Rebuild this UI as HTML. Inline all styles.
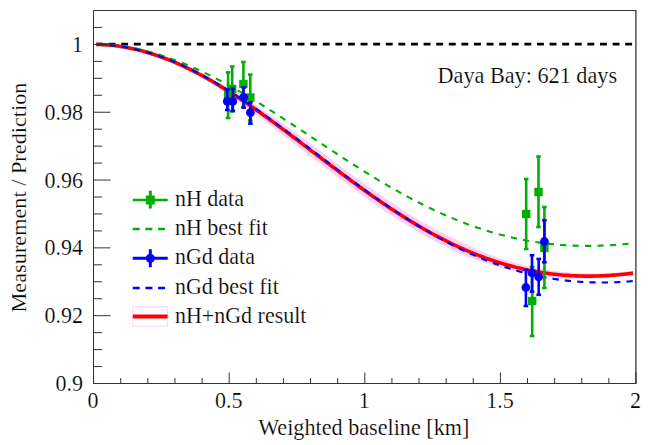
<!DOCTYPE html>
<html><head><meta charset="utf-8"><style>
html,body{margin:0;padding:0;background:#fff;width:650px;height:445px;overflow:hidden}
svg{display:block}
text{font-family:"Liberation Serif",serif;font-size:22px;fill:#000;stroke:#fff;stroke-width:0.2px}
</style></head><body>
<svg width="650" height="445" viewBox="0 0 650 445">
<rect width="650" height="445" fill="#fff"/>
<path d="M96.00,42.53 L98.45,42.57 L100.90,42.64 L103.36,42.75 L105.81,42.89 L108.26,43.07 L110.71,43.27 L113.16,43.52 L115.62,43.79 L118.07,44.10 L120.52,44.44 L122.97,44.82 L125.42,45.23 L127.88,45.67 L130.33,46.14 L132.78,46.65 L135.23,47.18 L137.68,47.75 L140.14,48.36 L142.59,48.99 L145.04,49.66 L147.49,50.35 L149.95,51.08 L152.40,51.84 L154.85,52.63 L157.30,53.45 L159.75,54.29 L162.21,55.17 L164.66,56.08 L167.11,57.02 L169.56,57.98 L172.01,58.98 L174.47,60.00 L176.92,61.05 L179.37,62.12 L181.82,63.23 L184.27,64.36 L186.73,65.51 L189.18,66.70 L191.63,67.90 L194.08,69.14 L196.53,70.39 L198.99,71.67 L201.44,72.92 L203.89,74.15 L206.34,75.41 L208.79,76.68 L211.25,77.98 L213.70,79.30 L216.15,80.64 L218.60,82.00 L221.05,83.38 L223.51,84.78 L225.96,86.20 L228.41,87.64 L230.86,89.10 L233.32,90.57 L235.77,92.06 L238.22,93.57 L240.67,95.09 L243.12,96.63 L245.58,98.19 L248.03,99.75 L250.48,101.34 L252.93,102.93 L255.38,104.54 L257.84,106.17 L260.29,107.82 L262.74,109.47 L265.19,111.13 L267.64,112.81 L270.10,114.49 L272.55,116.19 L275.00,117.89 L277.45,119.60 L279.90,121.32 L282.36,123.04 L284.81,124.77 L287.26,126.51 L289.71,128.25 L292.16,130.07 L294.62,131.89 L297.07,133.72 L299.52,135.55 L301.97,137.39 L304.42,139.22 L306.88,141.06 L309.33,142.90 L311.78,144.74 L314.23,146.58 L316.68,148.42 L319.14,150.26 L321.59,152.11 L324.04,153.95 L326.49,155.80 L328.95,157.64 L331.40,159.47 L333.85,161.31 L336.30,163.13 L338.75,164.96 L341.21,166.78 L343.66,168.59 L346.11,170.39 L348.56,172.19 L351.01,173.99 L353.47,175.77 L355.92,177.55 L358.37,179.31 L360.82,181.07 L363.27,182.82 L365.73,184.56 L368.18,186.29 L370.63,188.01 L373.08,189.76 L375.53,191.49 L377.99,193.21 L380.44,194.91 L382.89,196.61 L385.34,198.29 L387.79,199.96 L390.25,201.61 L392.70,203.25 L395.15,204.87 L397.60,206.49 L400.05,208.08 L402.51,209.66 L404.96,211.22 L407.41,212.77 L409.86,214.30 L412.32,215.82 L414.77,217.32 L417.22,218.80 L419.67,220.26 L422.12,221.71 L424.58,223.13 L427.03,224.54 L429.48,225.93 L431.93,227.31 L434.38,228.66 L436.84,229.99 L439.29,231.31 L441.74,232.58 L444.19,233.82 L446.64,235.04 L449.10,236.25 L451.55,237.43 L454.00,238.59 L456.45,239.73 L458.90,240.85 L461.36,242.01 L463.81,243.21 L466.26,244.38 L468.71,245.54 L471.16,246.67 L473.62,247.78 L476.07,248.87 L478.52,249.93 L480.97,250.98 L483.42,252.00 L485.88,253.00 L488.33,253.98 L490.78,254.94 L493.23,255.87 L495.68,256.77 L498.14,257.62 L500.59,258.44 L503.04,259.24 L505.49,260.02 L507.95,260.77 L510.40,261.51 L512.85,262.22 L515.30,262.91 L517.75,263.57 L520.21,264.22 L522.66,264.84 L525.11,265.44 L527.56,266.02 L530.01,266.58 L532.47,267.12 L534.92,267.63 L537.37,268.12 L539.82,268.59 L542.27,269.04 L544.73,269.47 L547.18,269.88 L549.63,270.26 L552.08,270.62 L554.53,270.95 L556.99,271.26 L559.44,271.56 L561.89,271.83 L564.34,272.08 L566.79,272.31 L569.25,272.52 L571.70,272.71 L574.15,272.88 L576.60,273.03 L579.05,273.16 L581.51,273.27 L583.96,273.36 L586.41,273.44 L588.86,273.49 L591.32,273.52 L593.77,273.54 L596.22,273.54 L598.67,273.52 L601.12,273.45 L603.58,273.34 L606.03,273.21 L608.48,273.06 L610.93,272.90 L613.38,272.72 L615.84,272.52 L618.29,272.30 L620.74,272.07 L623.19,271.82 L625.64,271.55 L628.10,271.27 L630.55,270.98 L633.00,270.67 L633.00,275.63 L630.55,275.93 L628.10,276.21 L625.64,276.48 L623.19,276.74 L620.74,276.97 L618.29,277.19 L615.84,277.40 L613.38,277.58 L610.93,277.75 L608.48,277.90 L606.03,278.04 L603.58,278.16 L601.12,278.26 L598.67,278.37 L596.22,278.49 L593.77,278.59 L591.32,278.67 L588.86,278.73 L586.41,278.78 L583.96,278.81 L581.51,278.81 L579.05,278.80 L576.60,278.77 L574.15,278.71 L571.70,278.64 L569.25,278.55 L566.79,278.44 L564.34,278.30 L561.89,278.15 L559.44,277.98 L556.99,277.78 L554.53,277.57 L552.08,277.33 L549.63,277.08 L547.18,276.81 L544.73,276.52 L542.27,276.21 L539.82,275.87 L537.37,275.52 L534.92,275.14 L532.47,274.75 L530.01,274.33 L527.56,273.88 L525.11,273.42 L522.66,272.94 L520.21,272.43 L517.75,271.90 L515.30,271.35 L512.85,270.77 L510.40,270.18 L507.95,269.56 L505.49,268.92 L503.04,268.26 L500.59,267.58 L498.14,266.87 L495.68,266.14 L493.23,265.43 L490.78,264.70 L488.33,263.95 L485.88,263.18 L483.42,262.39 L480.97,261.58 L478.52,260.74 L476.07,259.89 L473.62,259.01 L471.16,258.11 L468.71,257.19 L466.26,256.25 L463.81,255.28 L461.36,254.30 L458.90,253.24 L456.45,252.09 L454.00,250.93 L451.55,249.74 L449.10,248.54 L446.64,247.31 L444.19,246.06 L441.74,244.80 L439.29,243.52 L436.84,242.25 L434.38,240.96 L431.93,239.65 L429.48,238.32 L427.03,236.97 L424.58,235.60 L422.12,234.21 L419.67,232.81 L417.22,231.39 L414.77,229.95 L412.32,228.49 L409.86,227.02 L407.41,225.53 L404.96,224.03 L402.51,222.50 L400.05,220.97 L397.60,219.41 L395.15,217.84 L392.70,216.26 L390.25,214.66 L387.79,213.05 L385.34,211.43 L382.89,209.79 L380.44,208.13 L377.99,206.47 L375.53,204.79 L373.08,203.10 L370.63,201.40 L368.18,199.67 L365.73,197.91 L363.27,196.14 L360.82,194.36 L358.37,192.57 L355.92,190.78 L353.47,188.97 L351.01,187.16 L348.56,185.34 L346.11,183.51 L343.66,181.67 L341.21,179.83 L338.75,177.98 L336.30,176.13 L333.85,174.27 L331.40,172.41 L328.95,170.54 L326.49,168.67 L324.04,166.80 L321.59,164.93 L319.14,163.05 L316.68,161.16 L314.23,159.27 L311.78,157.38 L309.33,155.49 L306.88,153.60 L304.42,151.71 L301.97,149.83 L299.52,147.94 L297.07,146.06 L294.62,144.18 L292.16,142.31 L289.71,140.43 L287.26,138.49 L284.81,136.56 L282.36,134.63 L279.90,132.71 L277.45,130.80 L275.00,128.89 L272.55,126.99 L270.10,125.10 L267.64,123.22 L265.19,121.35 L262.74,119.49 L260.29,117.64 L257.84,115.80 L255.38,113.97 L252.93,112.15 L250.48,110.34 L248.03,108.55 L245.58,106.76 L243.12,105.00 L240.67,103.24 L238.22,101.50 L235.77,99.78 L233.32,98.08 L230.86,96.39 L228.41,94.72 L225.96,93.07 L223.51,91.43 L221.05,89.82 L218.60,88.22 L216.15,86.65 L213.70,85.10 L211.25,83.56 L208.79,82.05 L206.34,80.56 L203.89,79.09 L201.44,77.65 L198.99,76.27 L196.53,74.97 L194.08,73.69 L191.63,72.44 L189.18,71.21 L186.73,70.01 L184.27,68.84 L181.82,67.69 L179.37,66.57 L176.92,65.47 L174.47,64.40 L172.01,63.36 L169.56,62.35 L167.11,61.36 L164.66,60.41 L162.21,59.48 L159.75,58.58 L157.30,57.72 L154.85,56.88 L152.40,56.07 L149.95,55.29 L147.49,54.55 L145.04,53.83 L142.59,53.15 L140.14,52.50 L137.68,51.88 L135.23,51.29 L132.78,50.73 L130.33,50.20 L127.88,49.71 L125.42,49.25 L122.97,48.83 L120.52,48.43 L118.07,48.07 L115.62,47.74 L113.16,47.45 L110.71,47.19 L108.26,46.96 L105.81,46.77 L103.36,46.61 L100.90,46.48 L98.45,46.39 L96.00,46.33 Z" fill="#fccffc" stroke="none"/>
<line x1="96" y1="44.1" x2="634" y2="44.1" stroke="#000" stroke-width="2.8" stroke-dasharray="6.9 5.7"/>
<path d="M96.00,44.43 L98.45,44.48 L100.90,44.56 L103.36,44.68 L105.81,44.83 L108.26,45.01 L110.71,45.23 L113.16,45.48 L115.62,45.77 L118.07,46.09 L120.52,46.44 L122.97,46.82 L125.42,47.24 L127.88,47.69 L130.33,48.17 L132.78,48.69 L135.23,49.24 L137.68,49.82 L140.14,50.43 L142.59,51.07 L145.04,51.74 L147.49,52.45 L149.95,53.19 L152.40,53.96 L154.85,54.75 L157.30,55.58 L159.75,56.44 L162.21,57.33 L164.66,58.24 L167.11,59.19 L169.56,60.17 L172.01,61.17 L174.47,62.20 L176.92,63.26 L179.37,64.34 L181.82,65.46 L184.27,66.60 L186.73,67.76 L189.18,68.95 L191.63,70.17 L194.08,71.41 L196.53,72.68 L198.99,73.97 L201.44,75.29 L203.89,76.62 L206.34,77.98 L208.79,79.37 L211.25,80.77 L213.70,82.20 L216.15,83.64 L218.60,85.11 L221.05,86.60 L223.51,88.11 L225.96,89.63 L228.41,91.18 L230.86,92.74 L233.32,94.32 L235.77,95.92 L238.22,97.54 L240.67,99.17 L243.12,100.81 L245.58,102.47 L248.03,104.15 L250.48,105.84 L252.93,107.54 L255.38,109.26 L257.84,110.99 L260.29,112.73 L262.74,114.48 L265.19,116.24 L267.64,118.01 L270.10,119.80 L272.55,121.59 L275.00,123.39 L277.45,125.20 L279.90,127.01 L282.36,128.84 L284.81,130.67 L287.26,132.50 L289.71,134.34 L292.16,136.19 L294.62,138.04 L297.07,139.89 L299.52,141.75 L301.97,143.61 L304.42,145.47 L306.88,147.33 L309.33,149.20 L311.78,151.06 L314.23,152.93 L316.68,154.79 L319.14,156.66 L321.59,158.52 L324.04,160.38 L326.49,162.24 L328.95,164.09 L331.40,165.94 L333.85,167.79 L336.30,169.63 L338.75,171.47 L341.21,173.30 L343.66,175.13 L346.11,176.95 L348.56,178.76 L351.01,180.57 L353.47,182.37 L355.92,184.16 L358.37,185.94 L360.82,187.72 L363.27,189.48 L365.73,191.23 L368.18,192.98 L370.63,194.71 L373.08,196.43 L375.53,198.14 L377.99,199.84 L380.44,201.52 L382.89,203.20 L385.34,204.86 L387.79,206.50 L390.25,208.14 L392.70,209.75 L395.15,211.36 L397.60,212.95 L400.05,214.52 L402.51,216.08 L404.96,217.62 L407.41,219.15 L409.86,220.66 L412.32,222.16 L414.77,223.63 L417.22,225.09 L419.67,226.54 L422.12,227.96 L424.58,229.37 L427.03,230.76 L429.48,232.13 L431.93,233.48 L434.38,234.81 L436.84,236.12 L439.29,237.41 L441.74,238.69 L444.19,239.94 L446.64,241.18 L449.10,242.39 L451.55,243.59 L454.00,244.76 L456.45,245.91 L458.90,247.04 L461.36,248.16 L463.81,249.25 L466.26,250.31 L468.71,251.36 L471.16,252.39 L473.62,253.39 L476.07,254.38 L478.52,255.34 L480.97,256.28 L483.42,257.20 L485.88,258.09 L488.33,258.97 L490.78,259.82 L493.23,260.65 L495.68,261.46 L498.14,262.24 L500.59,263.01 L503.04,263.75 L505.49,264.47 L507.95,265.17 L510.40,265.84 L512.85,266.50 L515.30,267.13 L517.75,267.74 L520.21,268.32 L522.66,268.89 L525.11,269.43 L527.56,269.95 L530.01,270.45 L532.47,270.93 L534.92,271.39 L537.37,271.82 L539.82,272.23 L542.27,272.62 L544.73,272.99 L547.18,273.34 L549.63,273.67 L552.08,273.98 L554.53,274.26 L556.99,274.52 L559.44,274.77 L561.89,274.99 L564.34,275.19 L566.79,275.37 L569.25,275.53 L571.70,275.68 L574.15,275.80 L576.60,275.90 L579.05,275.98 L581.51,276.04 L583.96,276.08 L586.41,276.11 L588.86,276.11 L591.32,276.10 L593.77,276.06 L596.22,276.01 L598.67,275.94 L601.12,275.85 L603.58,275.75 L606.03,275.62 L608.48,275.48 L610.93,275.32 L613.38,275.15 L615.84,274.96 L618.29,274.75 L620.74,274.52 L623.19,274.28 L625.64,274.02 L628.10,273.74 L630.55,273.45 L633.00,273.15" fill="none" stroke="#ff0000" stroke-width="3.6"/>
<path d="M96.00,44.42 L98.45,44.47 L100.90,44.54 L103.36,44.64 L105.81,44.77 L108.26,44.93 L110.71,45.12 L113.16,45.34 L115.62,45.59 L118.07,45.87 L120.52,46.18 L122.97,46.51 L125.42,46.87 L127.88,47.27 L130.33,47.69 L132.78,48.13 L135.23,48.61 L137.68,49.12 L140.14,49.65 L142.59,50.21 L145.04,50.80 L147.49,51.41 L149.95,52.05 L152.40,52.72 L154.85,53.42 L157.30,54.14 L159.75,54.88 L162.21,55.66 L164.66,56.46 L167.11,57.28 L169.56,58.13 L172.01,59.00 L174.47,59.90 L176.92,60.82 L179.37,61.77 L181.82,62.74 L184.27,63.73 L186.73,64.75 L189.18,65.78 L191.63,66.84 L194.08,67.92 L196.53,69.03 L198.99,70.15 L201.44,71.30 L203.89,72.46 L206.34,73.65 L208.79,74.85 L211.25,76.07 L213.70,77.32 L216.15,78.58 L218.60,79.85 L221.05,81.15 L223.51,82.46 L225.96,83.79 L228.41,85.14 L230.86,86.50 L233.32,87.88 L235.77,89.27 L238.22,90.67 L240.67,92.09 L243.12,93.53 L245.58,94.98 L248.03,96.44 L250.48,97.91 L252.93,99.39 L255.38,100.88 L257.84,102.39 L260.29,103.91 L262.74,105.43 L265.19,106.97 L267.64,108.51 L270.10,110.06 L272.55,111.62 L275.00,113.19 L277.45,114.77 L279.90,116.35 L282.36,117.94 L284.81,119.53 L287.26,121.13 L289.71,122.73 L292.16,124.34 L294.62,125.95 L297.07,127.57 L299.52,129.18 L301.97,130.80 L304.42,132.43 L306.88,134.05 L309.33,135.67 L311.78,137.30 L314.23,138.92 L316.68,140.55 L319.14,142.17 L321.59,143.79 L324.04,145.41 L326.49,147.03 L328.95,148.65 L331.40,150.26 L333.85,151.87 L336.30,153.47 L338.75,155.08 L341.21,156.67 L343.66,158.26 L346.11,159.85 L348.56,161.43 L351.01,163.00 L353.47,164.57 L355.92,166.13 L358.37,167.68 L360.82,169.23 L363.27,170.76 L365.73,172.29 L368.18,173.81 L370.63,175.32 L373.08,176.82 L375.53,178.30 L377.99,179.78 L380.44,181.25 L382.89,182.71 L385.34,184.15 L387.79,185.59 L390.25,187.01 L392.70,188.42 L395.15,189.81 L397.60,191.20 L400.05,192.57 L402.51,193.93 L404.96,195.27 L407.41,196.60 L409.86,197.91 L412.32,199.21 L414.77,200.50 L417.22,201.77 L419.67,203.02 L422.12,204.26 L424.58,205.49 L427.03,206.70 L429.48,207.89 L431.93,209.06 L434.38,210.22 L436.84,211.36 L439.29,212.49 L441.74,213.60 L444.19,214.69 L446.64,215.76 L449.10,216.82 L451.55,217.85 L454.00,218.87 L456.45,219.88 L458.90,220.86 L461.36,221.82 L463.81,222.77 L466.26,223.70 L468.71,224.61 L471.16,225.50 L473.62,226.37 L476.07,227.23 L478.52,228.06 L480.97,228.88 L483.42,229.67 L485.88,230.45 L488.33,231.21 L490.78,231.95 L493.23,232.67 L495.68,233.37 L498.14,234.05 L500.59,234.71 L503.04,235.35 L505.49,235.97 L507.95,236.58 L510.40,237.16 L512.85,237.72 L515.30,238.27 L517.75,238.79 L520.21,239.30 L522.66,239.79 L525.11,240.26 L527.56,240.70 L530.01,241.13 L532.47,241.54 L534.92,241.94 L537.37,242.31 L539.82,242.66 L542.27,243.00 L544.73,243.31 L547.18,243.61 L549.63,243.89 L552.08,244.15 L554.53,244.39 L556.99,244.61 L559.44,244.82 L561.89,245.00 L564.34,245.17 L566.79,245.32 L569.25,245.46 L571.70,245.57 L574.15,245.67 L576.60,245.75 L579.05,245.81 L581.51,245.86 L583.96,245.89 L586.41,245.90 L588.86,245.90 L591.32,245.88 L593.77,245.84 L596.22,245.79 L598.67,245.72 L601.12,245.63 L603.58,245.53 L606.03,245.41 L608.48,245.28 L610.93,245.13 L613.38,244.97 L615.84,244.80 L618.29,244.60 L620.74,244.40 L623.19,244.18 L625.64,243.94 L628.10,243.69 L630.55,243.43 L633.00,243.16" fill="none" stroke="#00b000" stroke-width="2.1" stroke-dasharray="6.3 6.17" stroke-dashoffset="-1.0"/>
<path d="M96.00,44.43 L98.45,44.47 L100.90,44.56 L103.36,44.67 L105.81,44.82 L108.26,45.00 L110.71,45.22 L113.16,45.46 L115.62,45.74 L118.07,46.06 L120.52,46.40 L122.97,46.78 L125.42,47.19 L127.88,47.63 L130.33,48.11 L132.78,48.61 L135.23,49.15 L137.68,49.72 L140.14,50.32 L142.59,50.95 L145.04,51.62 L147.49,52.31 L149.95,53.04 L152.40,53.79 L154.85,54.58 L157.30,55.39 L159.75,56.23 L162.21,57.11 L164.66,58.01 L167.11,58.94 L169.56,59.90 L172.01,60.89 L174.47,61.90 L176.92,62.94 L179.37,64.01 L181.82,65.11 L184.27,66.23 L186.73,67.38 L189.18,68.56 L191.63,69.76 L194.08,70.98 L196.53,72.23 L198.99,73.50 L201.44,74.80 L203.89,76.12 L206.34,77.46 L208.79,78.82 L211.25,80.21 L213.70,81.62 L216.15,83.05 L218.60,84.50 L221.05,85.97 L223.51,87.46 L225.96,88.97 L228.41,90.49 L230.86,92.04 L233.32,93.60 L235.77,95.19 L238.22,96.78 L240.67,98.40 L243.12,100.03 L245.58,101.67 L248.03,103.34 L250.48,105.01 L252.93,106.70 L255.38,108.40 L257.84,110.12 L260.29,111.84 L262.74,113.58 L265.19,115.33 L267.64,117.10 L270.10,118.87 L272.55,120.65 L275.00,122.44 L277.45,124.24 L279.90,126.05 L282.36,127.86 L284.81,129.69 L287.26,131.51 L289.71,133.35 L292.16,135.19 L294.62,137.04 L297.07,138.89 L299.52,140.74 L301.97,142.60 L304.42,144.46 L306.88,146.33 L309.33,148.19 L311.78,150.06 L314.23,151.93 L316.68,153.80 L319.14,155.67 L321.59,157.54 L324.04,159.40 L326.49,161.27 L328.95,163.13 L331.40,165.00 L333.85,166.86 L336.30,168.71 L338.75,170.56 L341.21,172.41 L343.66,174.25 L346.11,176.09 L348.56,177.92 L351.01,179.75 L353.47,181.57 L355.92,183.38 L358.37,185.19 L360.82,186.98 L363.27,188.77 L365.73,190.55 L368.18,192.32 L370.63,194.09 L373.08,195.84 L375.53,197.58 L377.99,199.31 L380.44,201.03 L382.89,202.74 L385.34,204.43 L387.79,206.12 L390.25,207.79 L392.70,209.45 L395.15,211.10 L397.60,212.73 L400.05,214.35 L402.51,215.95 L404.96,217.54 L407.41,219.11 L409.86,220.67 L412.32,222.22 L414.77,223.75 L417.22,225.26 L419.67,226.76 L422.12,228.24 L424.58,229.70 L427.03,231.14 L429.48,232.57 L431.93,233.98 L434.38,235.38 L436.84,236.75 L439.29,238.11 L441.74,239.45 L444.19,240.77 L446.64,242.07 L449.10,243.35 L451.55,244.62 L454.00,245.86 L456.45,247.08 L458.90,248.29 L461.36,249.47 L463.81,250.64 L466.26,251.78 L468.71,252.91 L471.16,254.01 L473.62,255.09 L476.07,256.16 L478.52,257.20 L480.97,258.22 L483.42,259.22 L485.88,260.20 L488.33,261.16 L490.78,262.10 L493.23,263.01 L495.68,263.91 L498.14,264.78 L500.59,265.63 L503.04,266.46 L505.49,267.27 L507.95,268.06 L510.40,268.83 L512.85,269.57 L515.30,270.30 L517.75,271.00 L520.21,271.68 L522.66,272.34 L525.11,272.98 L527.56,273.59 L530.01,274.19 L532.47,274.76 L534.92,275.32 L537.37,275.85 L539.82,276.36 L542.27,276.85 L544.73,277.32 L547.18,277.76 L549.63,278.19 L552.08,278.59 L554.53,278.98 L556.99,279.34 L559.44,279.69 L561.89,280.01 L564.34,280.31 L566.79,280.59 L569.25,280.86 L571.70,281.10 L574.15,281.32 L576.60,281.52 L579.05,281.71 L581.51,281.87 L583.96,282.01 L586.41,282.14 L588.86,282.24 L591.32,282.33 L593.77,282.40 L596.22,282.45 L598.67,282.48 L601.12,282.49 L603.58,282.48 L606.03,282.46 L608.48,282.42 L610.93,282.36 L613.38,282.28 L615.84,282.19 L618.29,282.08 L620.74,281.95 L623.19,281.80 L625.64,281.64 L628.10,281.46 L630.55,281.27 L633.00,281.06" fill="none" stroke="#0000ff" stroke-width="2.1" stroke-dasharray="6.3 6.06" stroke-dashoffset="-1.4"/>
<line x1="228.1" y1="72.4" x2="228.1" y2="118" stroke="#00b000" stroke-width="2.6"/><rect x="225.80" y="71.10" width="4.6" height="2.6" fill="#00b000"/><rect x="225.80" y="116.70" width="4.6" height="2.6" fill="#00b000"/><rect x="223.9" y="90.8" width="8.4" height="8.4" fill="#00b000"/>
<line x1="232.2" y1="66.5" x2="232.2" y2="111.5" stroke="#00b000" stroke-width="2.6"/><rect x="229.90" y="65.20" width="4.6" height="2.6" fill="#00b000"/><rect x="229.90" y="110.20" width="4.6" height="2.6" fill="#00b000"/><rect x="228.0" y="84.8" width="8.4" height="8.4" fill="#00b000"/>
<line x1="243.4" y1="62" x2="243.4" y2="107" stroke="#00b000" stroke-width="2.6"/><rect x="241.10" y="60.70" width="4.6" height="2.6" fill="#00b000"/><rect x="241.10" y="105.70" width="4.6" height="2.6" fill="#00b000"/><rect x="239.20000000000002" y="79.8" width="8.4" height="8.4" fill="#00b000"/>
<line x1="250.3" y1="74.6" x2="250.3" y2="120.5" stroke="#00b000" stroke-width="2.6"/><rect x="248.00" y="73.30" width="4.6" height="2.6" fill="#00b000"/><rect x="248.00" y="119.20" width="4.6" height="2.6" fill="#00b000"/><rect x="246.10000000000002" y="93.3" width="8.4" height="8.4" fill="#00b000"/>
<line x1="526.2" y1="179" x2="526.2" y2="249" stroke="#00b000" stroke-width="2.6"/><rect x="523.90" y="177.70" width="4.6" height="2.6" fill="#00b000"/><rect x="523.90" y="247.70" width="4.6" height="2.6" fill="#00b000"/><rect x="522.0" y="209.8" width="8.4" height="8.4" fill="#00b000"/>
<line x1="538.5" y1="156.5" x2="538.5" y2="227" stroke="#00b000" stroke-width="2.6"/><rect x="536.20" y="155.20" width="4.6" height="2.6" fill="#00b000"/><rect x="536.20" y="225.70" width="4.6" height="2.6" fill="#00b000"/><rect x="534.3" y="187.8" width="8.4" height="8.4" fill="#00b000"/>
<line x1="544.4" y1="207" x2="544.4" y2="288" stroke="#00b000" stroke-width="2.6"/><rect x="542.10" y="205.70" width="4.6" height="2.6" fill="#00b000"/><rect x="542.10" y="286.70" width="4.6" height="2.6" fill="#00b000"/><rect x="540.1999999999999" y="243.8" width="8.4" height="8.4" fill="#00b000"/>
<line x1="532.2" y1="267" x2="532.2" y2="336" stroke="#00b000" stroke-width="2.6"/><rect x="529.90" y="265.70" width="4.6" height="2.6" fill="#00b000"/><rect x="529.90" y="334.70" width="4.6" height="2.6" fill="#00b000"/><rect x="528.0" y="296.8" width="8.4" height="8.4" fill="#00b000"/>
<line x1="227.3" y1="89.5" x2="227.3" y2="110" stroke="#0000ff" stroke-width="2.6"/><rect x="225.00" y="88.20" width="4.6" height="2.6" fill="#0000ff"/><rect x="225.00" y="108.70" width="4.6" height="2.6" fill="#0000ff"/><circle cx="227.3" cy="101.3" r="4.4" fill="#0000ff"/>
<line x1="232.8" y1="88.7" x2="232.8" y2="110.8" stroke="#0000ff" stroke-width="2.6"/><rect x="230.50" y="87.40" width="4.6" height="2.6" fill="#0000ff"/><rect x="230.50" y="109.50" width="4.6" height="2.6" fill="#0000ff"/><circle cx="232.8" cy="101.3" r="4.4" fill="#0000ff"/>
<line x1="243.6" y1="87.4" x2="243.6" y2="107.6" stroke="#0000ff" stroke-width="2.6"/><rect x="241.30" y="86.10" width="4.6" height="2.6" fill="#0000ff"/><rect x="241.30" y="106.30" width="4.6" height="2.6" fill="#0000ff"/><circle cx="243.6" cy="97.3" r="4.4" fill="#0000ff"/>
<line x1="250.4" y1="102.2" x2="250.4" y2="123.6" stroke="#0000ff" stroke-width="2.6"/><rect x="248.10" y="100.90" width="4.6" height="2.6" fill="#0000ff"/><rect x="248.10" y="122.30" width="4.6" height="2.6" fill="#0000ff"/><circle cx="250.4" cy="112.6" r="4.4" fill="#0000ff"/>
<line x1="525.9" y1="269.8" x2="525.9" y2="306" stroke="#0000ff" stroke-width="2.6"/><rect x="523.60" y="268.50" width="4.6" height="2.6" fill="#0000ff"/><rect x="523.60" y="304.70" width="4.6" height="2.6" fill="#0000ff"/><circle cx="525.9" cy="287.5" r="4.4" fill="#0000ff"/>
<line x1="532" y1="255.2" x2="532" y2="291.6" stroke="#0000ff" stroke-width="2.6"/><rect x="529.70" y="253.90" width="4.6" height="2.6" fill="#0000ff"/><rect x="529.70" y="290.30" width="4.6" height="2.6" fill="#0000ff"/><circle cx="532" cy="273" r="4.4" fill="#0000ff"/>
<line x1="538.7" y1="259" x2="538.7" y2="294.8" stroke="#0000ff" stroke-width="2.6"/><rect x="536.40" y="257.70" width="4.6" height="2.6" fill="#0000ff"/><rect x="536.40" y="293.50" width="4.6" height="2.6" fill="#0000ff"/><circle cx="538.7" cy="277" r="4.4" fill="#0000ff"/>
<line x1="544.4" y1="220.3" x2="544.4" y2="262.3" stroke="#0000ff" stroke-width="2.6"/><rect x="542.10" y="219.00" width="4.6" height="2.6" fill="#0000ff"/><rect x="542.10" y="261.00" width="4.6" height="2.6" fill="#0000ff"/><circle cx="544.4" cy="241.5" r="4.4" fill="#0000ff"/>
<path d="M635.9,10.5 L93.5,10.5 L93.5,383.5 L635.9,383.5" fill="none" stroke="#333" stroke-width="1"/><line x1="635.9" y1="10" x2="635.9" y2="384" stroke="#333" stroke-width="1.3"/><line x1="93.60" y1="383.5" x2="93.60" y2="372.5" stroke="#333" stroke-width="1"/><line x1="120.72" y1="383.5" x2="120.72" y2="378.0" stroke="#333" stroke-width="1"/><line x1="147.84" y1="383.5" x2="147.84" y2="378.0" stroke="#333" stroke-width="1"/><line x1="174.96" y1="383.5" x2="174.96" y2="378.0" stroke="#333" stroke-width="1"/><line x1="202.08" y1="383.5" x2="202.08" y2="378.0" stroke="#333" stroke-width="1"/><line x1="229.20" y1="383.5" x2="229.20" y2="372.5" stroke="#333" stroke-width="1"/><line x1="256.32" y1="383.5" x2="256.32" y2="378.0" stroke="#333" stroke-width="1"/><line x1="283.44" y1="383.5" x2="283.44" y2="378.0" stroke="#333" stroke-width="1"/><line x1="310.56" y1="383.5" x2="310.56" y2="378.0" stroke="#333" stroke-width="1"/><line x1="337.68" y1="383.5" x2="337.68" y2="378.0" stroke="#333" stroke-width="1"/><line x1="364.80" y1="383.5" x2="364.80" y2="372.5" stroke="#333" stroke-width="1"/><line x1="391.92" y1="383.5" x2="391.92" y2="378.0" stroke="#333" stroke-width="1"/><line x1="419.04" y1="383.5" x2="419.04" y2="378.0" stroke="#333" stroke-width="1"/><line x1="446.16" y1="383.5" x2="446.16" y2="378.0" stroke="#333" stroke-width="1"/><line x1="473.28" y1="383.5" x2="473.28" y2="378.0" stroke="#333" stroke-width="1"/><line x1="500.40" y1="383.5" x2="500.40" y2="372.5" stroke="#333" stroke-width="1"/><line x1="527.52" y1="383.5" x2="527.52" y2="378.0" stroke="#333" stroke-width="1"/><line x1="554.64" y1="383.5" x2="554.64" y2="378.0" stroke="#333" stroke-width="1"/><line x1="581.76" y1="383.5" x2="581.76" y2="378.0" stroke="#333" stroke-width="1"/><line x1="608.88" y1="383.5" x2="608.88" y2="378.0" stroke="#333" stroke-width="1"/><line x1="636.00" y1="383.5" x2="636.00" y2="372.5" stroke="#333" stroke-width="1"/><line x1="93.5" y1="383.50" x2="110.5" y2="383.50" stroke="#333" stroke-width="1"/><line x1="93.5" y1="366.55" x2="102.0" y2="366.55" stroke="#333" stroke-width="1"/><line x1="93.5" y1="349.59" x2="102.0" y2="349.59" stroke="#333" stroke-width="1"/><line x1="93.5" y1="332.64" x2="102.0" y2="332.64" stroke="#333" stroke-width="1"/><line x1="93.5" y1="315.68" x2="110.5" y2="315.68" stroke="#333" stroke-width="1"/><line x1="93.5" y1="298.73" x2="102.0" y2="298.73" stroke="#333" stroke-width="1"/><line x1="93.5" y1="281.77" x2="102.0" y2="281.77" stroke="#333" stroke-width="1"/><line x1="93.5" y1="264.82" x2="102.0" y2="264.82" stroke="#333" stroke-width="1"/><line x1="93.5" y1="247.86" x2="110.5" y2="247.86" stroke="#333" stroke-width="1"/><line x1="93.5" y1="230.91" x2="102.0" y2="230.91" stroke="#333" stroke-width="1"/><line x1="93.5" y1="213.95" x2="102.0" y2="213.95" stroke="#333" stroke-width="1"/><line x1="93.5" y1="197.00" x2="102.0" y2="197.00" stroke="#333" stroke-width="1"/><line x1="93.5" y1="180.05" x2="110.5" y2="180.05" stroke="#333" stroke-width="1"/><line x1="93.5" y1="163.09" x2="102.0" y2="163.09" stroke="#333" stroke-width="1"/><line x1="93.5" y1="146.14" x2="102.0" y2="146.14" stroke="#333" stroke-width="1"/><line x1="93.5" y1="129.18" x2="102.0" y2="129.18" stroke="#333" stroke-width="1"/><line x1="93.5" y1="112.23" x2="110.5" y2="112.23" stroke="#333" stroke-width="1"/><line x1="93.5" y1="95.27" x2="102.0" y2="95.27" stroke="#333" stroke-width="1"/><line x1="93.5" y1="78.32" x2="102.0" y2="78.32" stroke="#333" stroke-width="1"/><line x1="93.5" y1="61.36" x2="102.0" y2="61.36" stroke="#333" stroke-width="1"/><line x1="93.5" y1="44.41" x2="110.5" y2="44.41" stroke="#333" stroke-width="1"/><line x1="93.5" y1="27.46" x2="102.0" y2="27.46" stroke="#333" stroke-width="1"/><line x1="93.5" y1="10.50" x2="102.0" y2="10.50" stroke="#333" stroke-width="1"/>
<text transform="translate(83.00,51.91) scale(1.0,1.08)" text-anchor="end">1</text><text transform="translate(83.00,119.73) scale(1.0,1.08)" text-anchor="end">0.98</text><text transform="translate(83.00,187.55) scale(1.0,1.08)" text-anchor="end">0.96</text><text transform="translate(83.00,255.36) scale(1.0,1.08)" text-anchor="end">0.94</text><text transform="translate(83.00,323.18) scale(1.0,1.08)" text-anchor="end">0.92</text><text transform="translate(83.00,391.00) scale(1.0,1.08)" text-anchor="end">0.9</text><text transform="translate(93.10,407.80) scale(1.0,1.08)" text-anchor="middle">0</text><text transform="translate(228.70,407.80) scale(1.0,1.08)" text-anchor="middle">0.5</text><text transform="translate(364.30,407.80) scale(1.0,1.08)" text-anchor="middle">1</text><text transform="translate(499.90,407.80) scale(1.0,1.08)" text-anchor="middle">1.5</text><text transform="translate(635.50,407.80) scale(1.0,1.08)" text-anchor="middle">2</text><text transform="translate(363.80,435.00) scale(1.008,1.08)" text-anchor="middle">Weighted baseline [km]</text><text transform="translate(26.20,197.50) rotate(-90) scale(1.012,1)" text-anchor="middle">Measurement / Prediction</text><text transform="translate(437.50,83.30) scale(1.01,1.08)" text-anchor="start">Daya Bay: 621 days</text>
<text transform="translate(175.00,206.20) scale(1.0,1.08)" text-anchor="start">nH data</text><text transform="translate(175.00,235.20) scale(1.0,1.08)" text-anchor="start">nH best fit</text><text transform="translate(175.00,264.40) scale(1.0,1.08)" text-anchor="start">nGd data</text><text transform="translate(175.00,294.20) scale(1.0,1.08)" text-anchor="start">nGd best fit</text><text transform="translate(175.00,322.70) scale(1.0,1.08)" text-anchor="start">nH+nGd result</text><line x1="132.7" y1="200" x2="167.7" y2="200" stroke="#00b000" stroke-width="2.4"/><line x1="150.3" y1="190.6" x2="150.3" y2="208.6" stroke="#00b000" stroke-width="3"/><rect x="145.8" y="195.5" width="9" height="9" fill="#00b000"/><line x1="132.7" y1="229" x2="167.7" y2="229" stroke="#00b000" stroke-width="2.3" stroke-dasharray="7 5.7"/><line x1="132.7" y1="258.2" x2="167.7" y2="258.2" stroke="#0000ff" stroke-width="3"/><line x1="150.3" y1="249.2" x2="150.3" y2="267.2" stroke="#0000ff" stroke-width="3"/><circle cx="150.3" cy="258.2" r="4.5" fill="#0000ff"/><line x1="132.7" y1="288" x2="167.7" y2="288" stroke="#0000ff" stroke-width="2.3" stroke-dasharray="7 5.7"/><rect x="132.8" y="306.8" width="34.8" height="19.4" fill="#fff" stroke="#ffd0ff" stroke-width="1"/><line x1="132.8" y1="316.5" x2="167.6" y2="316.5" stroke="#ff0000" stroke-width="4"/>
</svg></body></html>
